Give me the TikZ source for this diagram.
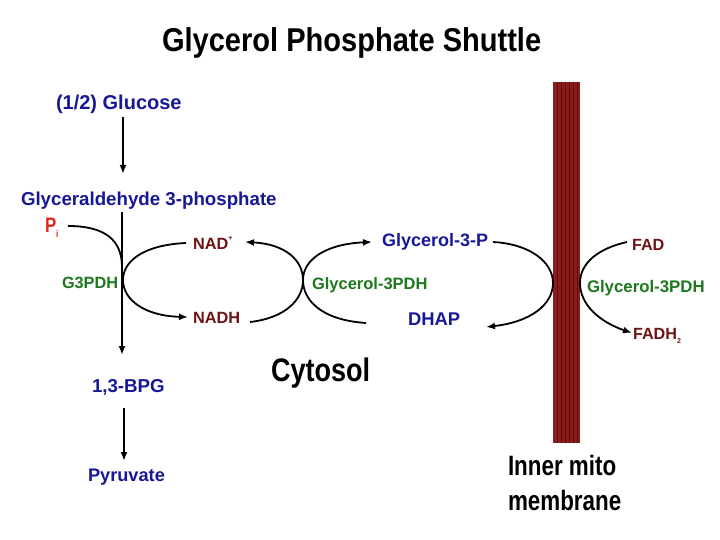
\documentclass[tikz,border=0pt]{standalone}
\usepackage{fontspec}
\setmainfont{Liberation Sans}
\usetikzlibrary{arrows.meta}
\definecolor{blu}{RGB}{24,24,150}
\definecolor{dred}{RGB}{110,20,20}
\definecolor{grn}{RGB}{30,120,30}
\definecolor{pired}{RGB}{225,40,30}
\definecolor{memb}{RGB}{140,28,28}
\definecolor{membd}{RGB}{95,12,12}
\newcommand{\fs}[1]{\fontsize{#1}{#1}\selectfont\bfseries}
\begin{document}
\begin{tikzpicture}[x=1pt,y=-1pt,
  txt/.style={anchor=base west,inner sep=0pt,outer sep=0pt},
  bl/.style={txt,text=blu,font=\fs{18.7}},
  rd/.style={txt,text=dred,font=\fs{16.3}},
  gr/.style={txt,text=grn,font=\fs{16.5}},
  bk/.style={txt,text=black},
  conn/.style={line width=1.8pt,black},
  arr/.style={conn,-{Latex[length=9pt,width=7pt]}}]
\useasboundingbox[fill=white] (0,0) rectangle (720,540);
% membrane
\fill[memb] (553,82) rectangle (580,443);
\foreach \xx in {557,561,565,569,573,577}
  \draw[membd,line width=0.5pt] (\xx,82) -- (\xx,443);
% texts
\node[bk,font=\fs{33},xscale=0.88] (title) at (162,52) {Glycerol Phosphate Shuttle};
\node[bl,font=\fs{20}] (glc) at (56,110) {(1/2) Glucose};
\node[bl] (gap) at (21,206) {Glyceraldehyde 3-phosphate};
\node[txt,text=pired,font=\fs{21},xscale=0.8] (pi) at (45,233) {P\raisebox{-0.2em}{\fontsize{10}{10}\selectfont i}};
\node[rd] (nadp) at (193,249) {NAD\raisebox{0.55em}{\fontsize{7}{7}\selectfont +}};
\node[rd] (nadh) at (193,323) {NADH};
\node[gr,font=\fs{16.3}] (g3pdh) at (62,288) {G3PDH};
\node[gr] (gdhm) at (312,289) {Glycerol-3PDH};
\node[bl,font=\fs{18}] (g3p) at (382,246) {Glycerol-3-P};
\node[bl,font=\fs{18.4}] (dhap) at (408,325) {DHAP};
\node[rd,font=\fs{16.2}] (fad) at (632,250) {FAD};
\node[gr,font=\fs{16.8}] (gdhr) at (587,292) {Glycerol-3PDH};
\node[rd,font=\fs{16.2}] (fadh) at (633,339) {FADH\raisebox{-0.25em}{\fontsize{7}{7}\selectfont 2}};
\node[bk,font=\fs{32.6},xscale=0.83] (cyto) at (271,381.7) {Cytosol};
\node[bl] (bpg) at (92,392) {1,3-BPG};
\node[bl,font=\fs{18.2}] (pyr) at (88,481) {Pyruvate};
\node[bk,font=\fs{28},xscale=0.8] (imm1) at (508,475) {Inner mito};
\node[bk,font=\fs{28},xscale=0.8] (imm2) at (508,510) {membrane};
% connector end points
\coordinate (a1) at (123,117);
\coordinate (a2) at (123,174);
\coordinate (v1) at (122,212);
\coordinate (v2) at (122,355);
\coordinate (b1) at (124,408);
\coordinate (b2) at (124,461);
\coordinate (pis) at (68,226);
\coordinate (pij) at (122,267);
\coordinate (nadpL) at (186,243);
\coordinate (nadhL) at (188,317);
\coordinate (nadhR) at (250,322);
\coordinate (nadpR) at (245,242);
\coordinate (dhapL) at (366,323);
\coordinate (g3pL) at (372,242);
\coordinate (g3pR) at (493,242);
\coordinate (dhapR) at (486,327);
\coordinate (fadL) at (627,242);
\coordinate (fadhL) at (632,333);
% straight arrows
\draw[arr] (a1) -- (a2);
\draw[arr] (v1) -- (v2);
\draw[arr] (b1) -- (b2);
% Pi joining
\draw[conn] (pis) .. controls (105,226) and (122,240) .. (pij);
% G3PDH loop NAD+ -> NADH
\draw[arr] (nadpL) .. controls (142,245) and (123,262) .. (123,280)
  .. controls (123,300) and (145,316) .. (nadhL);
% middle left arc NADH -> NAD+
\draw[arr] (nadhR) .. controls (285,318) and (303,300) .. (303,280)
  .. controls (303,260) and (285,244) .. (nadpR);
% middle right arc DHAP -> Glycerol-3-P
\draw[arr] (dhapL) .. controls (321,320) and (303,300) .. (303,280)
  .. controls (303,260) and (325,244) .. (g3pL);
% right loop Glycerol-3-P -> DHAP
\draw[arr] (g3pR) .. controls (530,244) and (553,262) .. (553,283)
  .. controls (553,305) and (530,322) .. (dhapR);
% FAD -> FADH2
\draw[arr] (fadL) .. controls (600,248) and (580,262) .. (580,283)
  .. controls (580,305) and (600,322) .. (fadhL);
\end{tikzpicture}
\end{document}
